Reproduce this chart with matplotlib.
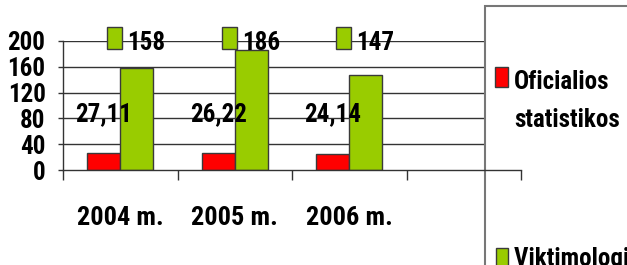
import matplotlib
matplotlib.use("Agg")
import matplotlib.pyplot as plt
from matplotlib.patches import Rectangle
import numpy as np

categories = ["2004 m.", "2005 m.", "2006 m.", ""]
official = [27.11, 26.22, 24.14]
victim = [158, 186, 147]
official_labels = ["27,11", "26,22", "24,14"]
victim_labels = ["158", "186", "147"]
yticks = [0, 40, 80, 120, 160, 200]
legend_labels = ["Oficialios\nstatistikos", "Viktimologiniai tyrimai"]

RED = "#ff0000"
GREEN = "#99cc00"
EDGE = "#3a3a3a"
FONT = ["Roboto Condensed", "DejaVu Sans"]
FS = 18
FS_CAT = 19

W, H = 627, 265
fig = plt.figure(figsize=(W / 100, H / 100), dpi=100)
plt.rcParams["font.family"] = FONT

def fx(px):
    return px / W

def fy(py):
    return 1 - py / H

ax_l, ax_r, ax_t, ax_b = 63, 521, 41, 170
ax = fig.add_axes([fx(ax_l), fy(ax_b), fx(ax_r - ax_l), (ax_b - ax_t) / H])

n = len(categories)
x = np.arange(len(official))
bw = 0.287
ax.bar(x - bw / 2, official, bw, color=RED, edgecolor=EDGE, linewidth=1, zorder=2)
ax.bar(x + bw / 2, victim, bw, color=GREEN, edgecolor=EDGE, linewidth=1, zorder=2)

ax.set_xlim(-0.5, n - 0.5)
ax.set_ylim(0, 200)

legend_left = 485
xmax_frac = (legend_left - ax_l) / (ax_r - ax_l)
for t in yticks[1:]:
    ax.axhline(t, xmin=0, xmax=xmax_frac, color="#333333", linewidth=1, zorder=0.5)

for s in ["top", "right"]:
    ax.spines[s].set_visible(False)
for s in ["left", "bottom"]:
    ax.spines[s].set_color("#333333")
    ax.spines[s].set_linewidth(1)

ax.set_yticks(yticks)
ax.set_yticklabels([str(t) for t in yticks], fontsize=FS, fontweight="bold", family=FONT)
ax.tick_params(axis="y", direction="out", length=3.6, width=1, color="#333333", pad=9)

ax.set_xticks(np.arange(n))
ax.set_xticklabels(categories, fontsize=FS_CAT, fontweight="bold", family=FONT)
ax.tick_params(axis="x", which="major", length=0, pad=26)
ax.set_xticks(np.arange(n + 1) - 0.5, minor=True)
ax.tick_params(axis="x", which="minor", direction="out", length=7.5, width=1, color="#333333")

for i in range(len(official)):
    ax.text(i - bw / 2, 75, official_labels[i], ha="center", va="baseline",
            fontsize=FS, fontweight="bold", family=FONT, zorder=4)
    gx = i + bw / 2
    ax.add_patch(Rectangle((gx - 0.257, 187.6), 0.13, 34.1, facecolor=GREEN,
                           edgecolor=EDGE, linewidth=1, clip_on=False, zorder=4))
    ax.text(gx - 0.083, 186, victim_labels[i], ha="left", va="baseline",
            fontsize=FS, fontweight="bold", family=FONT, zorder=4, clip_on=False)

box = Rectangle((fx(legend_left), -0.2), 1.0, fy(6) + 0.2, transform=fig.transFigure,
                facecolor="white", edgecolor="#777777", linewidth=1.5, zorder=1.2,
                clip_on=False)
ax.add_artist(box)

fig.patches.append(Rectangle((fx(495), fy(87)), fx(13), 20 / H, transform=fig.transFigure,
                             facecolor=RED, edgecolor=EDGE, linewidth=1, zorder=3))
line1, line2 = legend_labels[0].split("\n")
fig.text(fx(514), fy(89), line1, ha="left", va="baseline", fontsize=FS,
         fontweight="bold", family=FONT, zorder=3)
fig.text(fx(514), fy(127), line2, ha="left", va="baseline", fontsize=FS,
         fontweight="bold", family=FONT, zorder=3)
fig.patches.append(Rectangle((fx(496), fy(268)), fx(12), 20 / H, transform=fig.transFigure,
                             facecolor=GREEN, edgecolor=EDGE, linewidth=1, zorder=3))
fig.text(fx(514), fy(266), legend_labels[1], ha="left", va="baseline", fontsize=FS,
         fontweight="bold", family=FONT, zorder=3)

fig.savefig("out.png", dpi=100)
